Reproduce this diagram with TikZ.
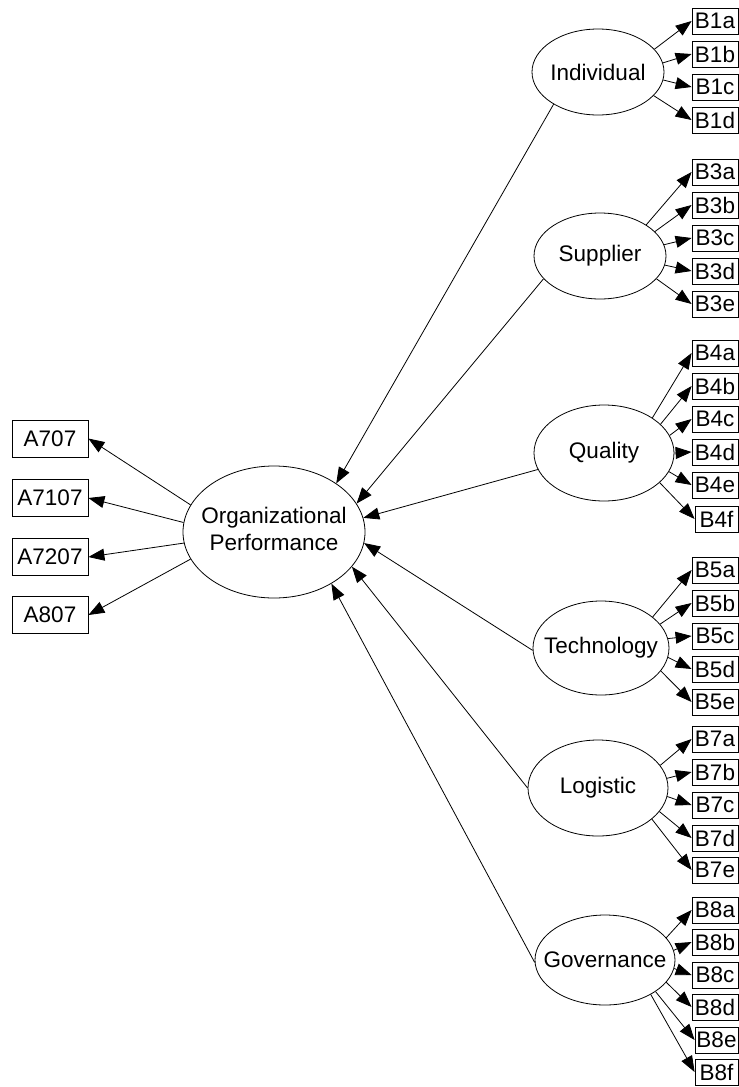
\documentclass[tikz,border=0pt]{standalone}
\usepackage{fontspec}
\setmainfont{Liberation Sans}
\usetikzlibrary{shapes.geometric,arrows.meta}
\begin{document}
\begin{tikzpicture}[x=1bp,y=-1bp,
  every node/.style={font=\fontsize{22.5bp}{27bp}\selectfont},
  lat/.style={draw, ellipse, inner sep=0pt, line width=0.8bp},
  obs/.style={draw, rectangle, minimum width=46bp, minimum height=26bp, inner sep=0pt, line width=0.8bp},
  obsn/.style={obs, minimum width=43bp},
  aobs/.style={draw, rectangle, minimum width=76bp, minimum height=37bp, inner sep=0pt, line width=0.8bp},
  arr/.style={-{Triangle[length=16bp,width=12bp]}, line width=0.8bp}]
\useasboundingbox (0,0) rectangle (739,1087);

% latent variables
\node[lat, minimum width=182bp, minimum height=132bp] (op) at (274,532)
  {\makebox[0pt]{\begin{tabular}{@{}c@{}}Organizational\\Performance\end{tabular}}};
\node[lat, minimum width=132bp, minimum height=86bp] (ind) at (598,72) {\makebox[0pt]{Individual}};
\node[lat, minimum width=132bp, minimum height=86bp] (sup) at (600,256) {\makebox[0pt]{Supplier}};
\node[lat, minimum width=140bp, minimum height=96bp] (qua) at (604,453) {\makebox[0pt]{Quality}};
\node[lat, minimum width=136bp, minimum height=94bp] (tec) at (601,648) {\makebox[0pt]{Technology}};
\node[lat, minimum width=140bp, minimum height=96bp] (log) at (598,788) {\makebox[0pt]{Logistic}};
\node[lat, minimum width=140bp, minimum height=90bp] (gov) at (605,960) {\makebox[0pt]{Governance}};

% A indicators
\node[aobs] (a1) at (50,438.5) {A707};
\node[aobs] (a2) at (50,498) {A7107};
\node[aobs] (a3) at (50,557) {A7207};
\node[aobs] (a4) at (50,615) {A807};

% B indicators
\node[obs] (b1a) at (715,21) {B1a};
\node[obs] (b1b) at (715,54) {B1b};
\node[obs] (b1c) at (715,87) {B1c};
\node[obs] (b1d) at (715,120) {B1d};

\node[obs] (b3a) at (715,172) {B3a};
\node[obs] (b3b) at (715,205) {B3b};
\node[obs] (b3c) at (715,238) {B3c};
\node[obs] (b3d) at (715,271) {B3d};
\node[obs] (b3e) at (715,304) {B3e};

\node[obs] (b4a) at (715,353) {B4a};
\node[obs] (b4b) at (715,386) {B4b};
\node[obs] (b4c) at (715,419) {B4c};
\node[obs] (b4d) at (715,452) {B4d};
\node[obs] (b4e) at (715,485) {B4e};
\node[obsn] (b4f) at (716.5,519) {B4f};

\node[obs] (b5a) at (715,570) {B5a};
\node[obs] (b5b) at (715,603) {B5b};
\node[obs] (b5c) at (715,636) {B5c};
\node[obs] (b5d) at (715,669) {B5d};
\node[obs] (b5e) at (715,702) {B5e};

\node[obs] (b7a) at (715,739) {B7a};
\node[obs] (b7b) at (715,772) {B7b};
\node[obs] (b7c) at (715,805) {B7c};
\node[obs] (b7d) at (715,838) {B7d};
\node[obs] (b7e) at (715,870) {B7e};

\node[obs] (b8a) at (715,910) {B8a};
\node[obs] (b8b) at (715,942) {B8b};
\node[obs] (b8c) at (715,975) {B8c};
\node[obs] (b8d) at (715,1007) {B8d};
\node[obsn] (b8e) at (716.5,1040) {B8e};
\node[obsn] (b8f) at (716.5,1072) {B8f};

% OP -> A
\draw[arr] (op.162) -- (a1.east);
\draw[arr] (op.174) -- (a2.east);
\draw[arr] (op.187) -- (a3.east);
\draw[arr] (op.198) -- (a4.east);

% B latent -> OP
\draw[arr] (ind.216) -- (op.38);
\draw[arr] (sup.202) -- (op.19);
\draw[arr] (qua.194) -- (op.9);
\draw[arr] (tec.182) -- (op.-7);
\draw[arr] (log.180) -- (op.-24);
\draw[arr] (gov.182) -- (op.-42);

% Individual
\draw[arr] (ind.22) -- (b1a.west);
\draw[arr] (ind.8) -- (b1b.west);
\draw[arr] (ind.-7) -- (b1c.west);
\draw[arr] (ind.-23) -- (b1d.west);

% Supplier
\draw[arr] (sup.34) -- (b3a.west);
\draw[arr] (sup.24) -- (b3b.west);
\draw[arr] (sup.10) -- (b3c.west);
\draw[arr] (sup.-8) -- (b3d.west);
\draw[arr] (sup.-22) -- (b3e.west);

% Quality
\draw[arr] (qua.36) -- (b4a.west);
\draw[arr] (qua.27) -- (b4b.west);
\draw[arr] (qua.15) -- (b4c.west);
\draw[arr] (qua.0) -- (b4d.west);
\draw[arr] (qua.-16) -- (b4e.west);
\draw[arr] (qua.-28) -- (b4f.west);

% Technology
\draw[arr] (tec.31) -- (b5a.west);
\draw[arr] (tec.22) -- (b5b.west);
\draw[arr] (tec.8) -- (b5c.west);
\draw[arr] (tec.-8) -- (b5d.west);
\draw[arr] (tec.-21) -- (b5e.west);

% Logistic
\draw[arr] (log.20) -- (b7a.west);
\draw[arr] (log.8) -- (b7b.west);
\draw[arr] (log.-7) -- (b7c.west);
\draw[arr] (log.-21) -- (b7d.west);
\draw[arr] (log.-30) -- (b7e.west);

% Governance
\draw[arr] (gov.20) -- (b8a.west);
\draw[arr] (gov.8) -- (b8b.west);
\draw[arr] (gov.-7) -- (b8c.west);
\draw[arr] (gov.-20) -- (b8d.west);
\draw[arr] (gov.-32) -- (b8e.west);
\draw[arr] (gov.-37) -- (b8f.west);
\end{tikzpicture}
\end{document}
